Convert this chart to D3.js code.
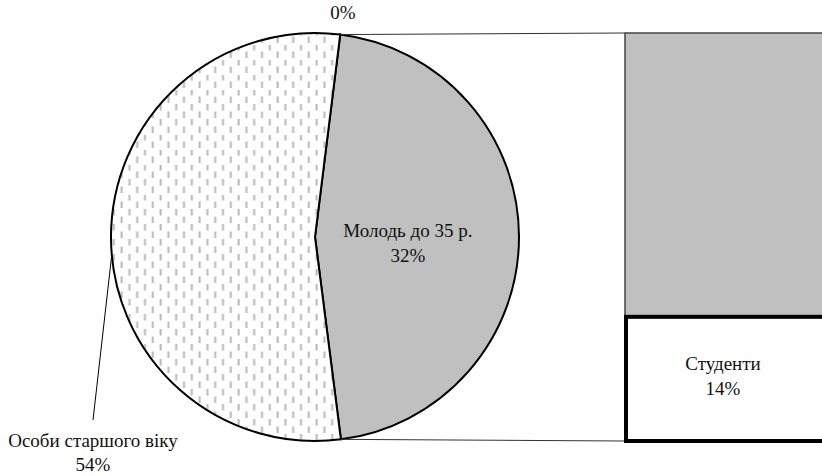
<!DOCTYPE html>
<html><head><meta charset="utf-8">
<script src="https://cdn.jsdelivr.net/npm/d3@7"></script>
<style>
html,body{margin:0;padding:0;background:#fff;overflow:hidden}
svg{display:block}
text{font-family:"Liberation Serif","Times New Roman",serif;fill:#111}
</style></head>
<body>
<svg id="chart" width="822" height="476"></svg>
<script>
// ---- data ----
const pieCategories = ["", "Молодь до 35 р.", "Особи старшого віку"];
const pieLabelValues = ["0%", "32%", "54%"];
const pieOtherValue = 46;           // combined slice (= bar total)
const pieValues = [0, pieOtherValue, 54];
const barCategories = ["Студенти", "Молодь до 35 р."];
const barValues = [14, 32];
const barLabelValues = ["14%", ""];

// ---- layout ----
const svg = d3.select("#chart");
const cx = 315, cy = 237, R = 204;
const startDeg = 7.1;
const FS = 19;

const defs = svg.append("defs");
const pat = defs.append("pattern").attr("id","vdash").attr("patternUnits","userSpaceOnUse")
  .attr("width",15.6).attr("height",15).attr("x",0).attr("y",2);
pat.append("rect").attr("width",15.6).attr("height",15).attr("fill","#fff");
pat.append("rect").attr("x",0.6).attr("y",0).attr("width",2).attr("height",6.5).attr("fill","#b8b8b8");
pat.append("rect").attr("x",8.4).attr("y",7.5).attr("width",2).attr("height",6.5).attr("fill","#b8b8b8");

const pie = d3.pie().sort(null).value(d => d)
  .startAngle(startDeg*Math.PI/180).endAngle(startDeg*Math.PI/180 + 2*Math.PI);
const arcs = pie(pieValues);
const arc = d3.arc().innerRadius(0).outerRadius(R);
const fills = ["#c0c0c0", "#c0c0c0", "url(#vdash)"];

const g = svg.append("g").attr("transform", `translate(${cx},${cy})`);
g.selectAll("path.slice").data(arcs).join("path")
  .attr("class","slice")
  .attr("d", arc)
  .attr("fill", (d,i) => fills[i])
  .attr("stroke", "#000")
  .attr("stroke-width", 2)
  .attr("stroke-linejoin","round");

// ---- bar (stack) ----
const barX0 = 625, barX1 = 830;
const barTotal = d3.sum(barValues);
const y = d3.scaleLinear().domain([0, barTotal]).range([cy + R, cy - R]);
const stack = [];
let acc = 0;
barValues.forEach((v,i) => { stack.push({cat:barCategories[i], lab:barLabelValues[i], y0:acc, y1:acc+v}); acc += v; });

// connector lines from pie "other" slice edges to bar corners
const other = arcs[1];
const pt = a => [cx + R*Math.sin(a), cy - R*Math.cos(a)];
const pTop = pt(other.startAngle), pBot = pt(other.endAngle);
svg.append("line").attr("x1",pTop[0]).attr("y1",pTop[1]).attr("x2",barX0).attr("y2",y(barTotal))
  .attr("stroke","#333").attr("stroke-width",1);
svg.append("line").attr("x1",pBot[0]).attr("y1",pBot[1]).attr("x2",barX0).attr("y2",y(0))
  .attr("stroke","#333").attr("stroke-width",1);

// upper segment (gray)
const seg = stack[1];
svg.append("rect").attr("x",barX0).attr("y",y(seg.y1)).attr("width",barX1-barX0).attr("height",y(seg.y0)-y(seg.y1))
  .attr("fill","#c0c0c0").attr("stroke","#444").attr("stroke-width",1.5);
// lower segment (white, thick border)
const s0 = stack[0];
svg.append("rect").attr("x",barX0+1).attr("y",y(s0.y1)).attr("width",barX1-barX0).attr("height",y(s0.y0)-y(s0.y1))
  .attr("fill","#fff").attr("stroke","#000").attr("stroke-width",4);

// bar label
const bl = svg.append("text").attr("text-anchor","middle").attr("font-size",FS);
bl.append("tspan").attr("x",723).attr("y",370).text(s0.cat);
bl.append("tspan").attr("x",723).attr("y",395).text(s0.lab);

// ---- pie labels ----
const a0 = arcs[0].startAngle;
svg.append("text").attr("text-anchor","middle").attr("font-size",FS)
  .attr("x", cx + (R+6)*Math.sin(a0) + 2).attr("y", 19).text(pieLabelValues[0]);

const c1 = d3.arc().innerRadius(0).outerRadius(R*0.95).centroid(arcs[1]);
const t1 = svg.append("text").attr("text-anchor","middle").attr("font-size",FS);
t1.append("tspan").attr("x",cx+c1[0]-4).attr("y",cy).text(pieCategories[1]);
t1.append("tspan").attr("x",cx+c1[0]-4).attr("y",cy+25).text(pieLabelValues[1]);

const la = 265*Math.PI/180;
const lp = pt(la);
svg.append("line").attr("x1",93).attr("y1",420).attr("x2",lp[0]).attr("y2",lp[1])
  .attr("stroke","#000").attr("stroke-width",1);
const t2 = svg.append("text").attr("text-anchor","middle").attr("font-size",FS);
t2.append("tspan").attr("x",93).attr("y",447).text(pieCategories[2]);
t2.append("tspan").attr("x",93).attr("y",471).text(pieLabelValues[2]);
</script>
</body></html>
